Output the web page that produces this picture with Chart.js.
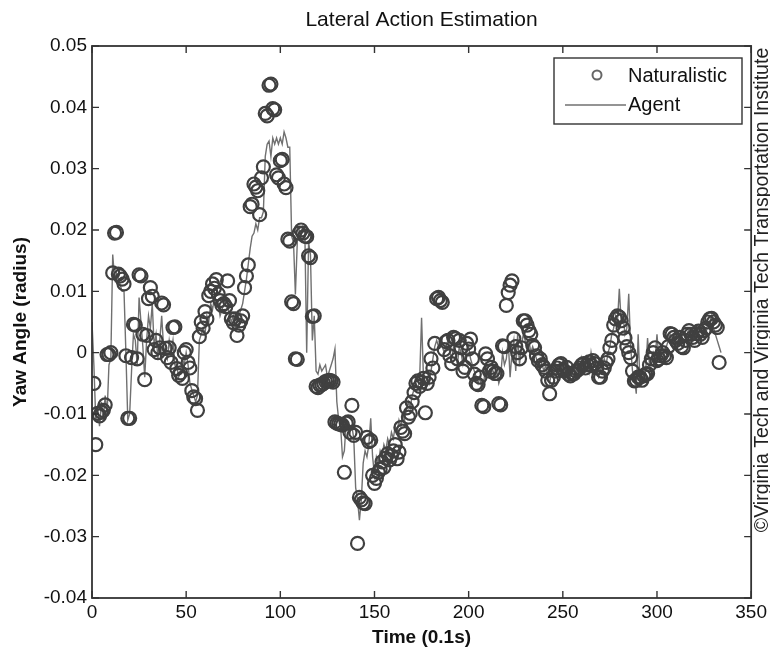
<!DOCTYPE html>
<html><head><meta charset="utf-8">
<script src="https://cdn.jsdelivr.net/npm/chart.js@4.4.1/dist/chart.umd.min.js"></script>
<style>html,body{margin:0;padding:0;background:#fff;overflow:hidden}</style>
</head><body>
<canvas id="c" width="770" height="654"></canvas>
<script>
const chartTitle = 'Lateral Action Estimation';
const xAxisTitle = 'Time (0.1s)';
const yAxisTitle = 'Yaw Angle (radius)';
const creditText = '\u00A9Virginia Tech and Virginia Tech Transportation Institute';
const seriesNames = ['Naturalistic', 'Agent'];
const xTicks = [0, 50, 100, 150, 200, 250, 300, 350];
const yTicks = [0.05, 0.04, 0.03, 0.02, 0.01, 0, -0.01, -0.02, -0.03, -0.04];

// Naturalistic yaw, one sample per time step, starting at t = 1
const naturalisticStart = 1;
const naturalisticYaw = [
  -0.005,-0.015,-0.0099,-0.0103,-0.0097,-0.0094,-0.0085,-0.0003,-0.0003,0.0,
  0.013,0.0195,0.0196,0.0128,0.0125,0.012,0.0112,-0.0005,-0.0107,-0.0107,
  -0.0008,0.0046,0.0045,-0.001,0.0127,0.0125,0.003,-0.0044,0.0028,0.0088,
  0.0106,0.0092,0.0005,0.002,0.0,0.0008,0.0081,0.0078,0.0007,-0.0008,
  0.0008,-0.0016,0.0041,0.0042,-0.0026,-0.0037,-0.0033,-0.0042,0.0,0.0005,
  -0.0016,-0.0025,-0.0062,-0.0072,-0.0075,-0.0094,0.0026,0.005,0.004,0.0067,
  0.0055,0.0093,0.01,0.0112,0.0105,0.0119,0.0096,0.0085,0.0077,0.008,
  0.0075,0.0117,0.0085,0.0055,0.0049,0.0055,0.0028,0.0045,0.0052,0.006,
  0.0106,0.0125,0.0143,0.0238,0.0242,0.0275,0.027,0.0264,0.0225,0.0285,
  0.0303,0.039,0.0386,0.0436,0.0438,0.0398,0.0396,0.029,0.0285,0.0313,
  0.0315,0.0275,0.0269,0.0185,0.0182,0.0083,0.008,-0.001,-0.0011,0.0195,
  0.02,0.0195,0.019,0.0189,0.0158,0.0155,0.0059,0.006,-0.0055,-0.0057,
  -0.0053,-0.0052,-0.005,-0.0047,-0.0046,-0.0045,-0.0046,-0.0048,-0.0113,-0.0115,
  -0.0116,-0.0117,-0.0118,-0.0195,-0.0115,-0.0113,-0.013,-0.0086,-0.0135,-0.013,
  -0.0311,-0.0236,-0.024,-0.0245,-0.0246,-0.0138,-0.0145,-0.0143,-0.02,-0.0213,
  -0.0205,-0.0195,-0.019,-0.0178,-0.0187,-0.0172,-0.0165,-0.0175,-0.0168,-0.016,
  -0.015,-0.0173,-0.0162,-0.0122,-0.0128,-0.0132,-0.009,-0.0105,-0.0099,-0.008,
  -0.0065,-0.005,-0.0046,-0.0055,-0.0048,-0.0042,-0.0098,-0.005,-0.004,-0.001,
  -0.0025,0.0015,0.0088,0.009,0.0085,0.0082,0.0005,0.0018,0.002,-0.0005,
  -0.0018,0.0025,0.0023,-0.001,0.002,0.0008,-0.003,-0.0024,0.0015,0.0006,
  0.0022,-0.001,-0.0035,-0.005,-0.0052,-0.004,-0.0086,-0.0088,-0.0002,-0.001,
  -0.003,-0.0024,-0.003,-0.0034,-0.0034,-0.0083,-0.0085,0.0011,0.001,0.0077,
  0.0098,0.011,0.0117,0.0023,0.001,0.0,-0.001,0.0008,0.0052,0.0052,
  0.0045,0.0036,0.003,0.0012,0.0008,-0.0005,-0.0013,-0.001,-0.002,-0.0024,
  -0.003,-0.0045,-0.0067,-0.0045,-0.004,-0.003,-0.0025,-0.002,-0.0018,-0.0028,
  -0.003,-0.0024,-0.0035,-0.0038,-0.0034,-0.0034,-0.003,-0.0028,-0.0025,-0.002,
  -0.0018,-0.0025,-0.002,-0.0015,-0.002,-0.0013,-0.0018,-0.0025,-0.004,-0.004,
  -0.003,-0.0025,-0.0016,-0.001,0.0008,0.002,0.0045,0.0055,0.006,0.0058,
  0.0052,0.004,0.0024,0.001,0.0,-0.0008,-0.003,-0.0046,-0.0045,-0.004,
  -0.004,-0.0045,-0.0038,-0.0035,-0.0034,-0.002,-0.001,0.0,0.0008,-0.0013,
  -0.001,-0.0005,0.0,-0.0005,-0.0008,0.001,0.0031,0.003,0.0025,0.002,
  0.0015,0.0025,0.001,0.0008,0.002,0.003,0.0036,0.003,0.0025,0.002,
  0.0031,0.0035,0.003,0.0025,0.0036,0.004,0.005,0.0055,0.0056,0.005,
  0.0045,0.0041,-0.0016
];

// Agent yaw, one sample per time step, starting at t = 0
const agentStart = 0;
const agentYaw = [
  0.005,-0.002,-0.011,-0.009,-0.012,-0.008,-0.011,-0.007,-0.01,-0.002,
  -0.001,0.016,0.012,0.013,0.012,0.011,0.01,0.01,0.0,-0.011,
  -0.01,-0.003,0.003,0.002,-0.002,0.009,0.005,0.001,-0.004,0.002,
  0.006,0.004,0.008,0.001,0.003,-0.001,0.002,0.006,0.001,0.0,
  -0.001,0.002,0.0,0.002,-0.002,-0.002,-0.004,-0.003,-0.001,-0.002,
  0.0,-0.002,-0.005,-0.006,-0.007,-0.008,-0.007,0.002,0.003,0.004,
  0.003,0.006,0.005,0.008,0.007,0.009,0.008,0.008,0.006,0.007,
  0.008,0.009,0.008,0.006,0.005,0.006,0.004,0.005,0.006,0.007,
  0.008,0.01,0.012,0.0145,0.017,0.019,0.0195,0.021,0.02,0.022,
  0.022,0.023,0.032,0.034,0.0345,0.032,0.035,0.034,0.035,0.034,
  0.035,0.034,0.036,0.035,0.0335,0.0335,0.019,0.018,0.0095,0.018,
  0.02,0.019,0.0205,0.02,0.0,0.018,0.016,0.002,0.006,-0.003,
  -0.0035,-0.002,-0.003,-0.0025,-0.002,-0.004,-0.003,-0.002,-0.001,0.0006,
  -0.008,-0.011,-0.012,-0.017,-0.016,-0.011,-0.012,-0.013,-0.012,-0.014,
  -0.022,-0.024,-0.0273,-0.024,-0.018,-0.016,-0.017,-0.015,-0.0107,-0.017,
  -0.02,-0.017,-0.018,-0.016,-0.017,-0.015,-0.016,-0.014,-0.015,-0.013,
  -0.014,-0.012,-0.013,-0.011,-0.012,-0.01,-0.011,-0.009,-0.008,-0.009,
  -0.007,-0.006,-0.005,-0.006,-0.004,0.0057,-0.004,-0.005,-0.004,-0.005,
  -0.003,-0.001,0.001,0.002,0.001,0.002,0.001,0.0,0.001,0.002,
  0.0,-0.001,0.001,0.0,-0.002,0.001,0.0,-0.002,-0.001,0.0,
  0.001,-0.001,-0.002,-0.003,-0.004,-0.005,-0.004,-0.006,-0.005,-0.002,
  -0.003,-0.004,-0.003,-0.003,-0.004,-0.003,-0.005,-0.004,0.0,-0.002,
  -0.001,0.002,-0.004,0.0,0.002,-0.003,0.003,-0.002,0.001,0.003,
  0.002,0.001,0.002,0.0,0.001,0.0,-0.001,-0.002,-0.001,-0.002,
  -0.003,-0.002,-0.004,-0.005,-0.003,-0.004,-0.002,-0.003,-0.002,-0.003,
  -0.002,-0.004,-0.002,-0.003,-0.004,-0.003,-0.002,-0.004,-0.002,-0.003,
  -0.001,-0.003,-0.002,-0.001,-0.003,0.0,-0.002,-0.001,-0.003,-0.004,
  -0.003,-0.002,-0.001,-0.002,0.0,0.001,0.003,0.004,0.006,0.005,
  0.0104,0.005,0.006,0.003,0.004,0.0096,0.001,-0.003,-0.004,-0.0067,
  0.003,-0.005,-0.003,-0.004,-0.003,0.0024,-0.002,-0.001,0.0,-0.001,
  0.003,-0.001,0.0,-0.001,0.0,0.001,0.002,0.003,0.002,0.003,
  0.002,0.001,0.002,0.003,0.001,0.002,0.003,0.004,0.003,0.002,
  0.003,0.004,0.003,0.002,0.003,0.004,0.003,0.005,0.005,0.006,
  0.004,0.003,0.002,0.001,0.0
];

const FONT = "'Liberation Sans', Arial, sans-serif";
const MARKER_COLOR = '#404040';
const LINE_COLOR = '#707070';
const FRAME_COLOR = '#333333';

const naturalisticPoints = naturalisticYaw.map((v, i) => ({x: naturalisticStart + i, y: v}));
const agentPoints = agentYaw.map((v, i) => ({x: agentStart + i, y: v}));

const fmtY = v => (Math.abs(v) < 1e-9 ? '0' : v.toFixed(2));

const framePlugin = {
  id: 'frame',
  afterDatasetsDraw(chart) {
    const {ctx, chartArea: a, scales: {x, y}} = chart;
    ctx.save();
    ctx.strokeStyle = FRAME_COLOR;
    ctx.lineWidth = 1.8;
    ctx.strokeRect(a.left, a.top, a.right - a.left, a.bottom - a.top);
    ctx.lineWidth = 1.4;
    const L = 7;
    ctx.beginPath();
    x.ticks.forEach(t => {
      const px = x.getPixelForValue(t.value);
      ctx.moveTo(px, a.bottom); ctx.lineTo(px, a.bottom - L);
      ctx.moveTo(px, a.top); ctx.lineTo(px, a.top + L);
    });
    y.ticks.forEach(t => {
      const py = y.getPixelForValue(t.value);
      ctx.moveTo(a.left, py); ctx.lineTo(a.left + L, py);
      ctx.moveTo(a.right, py); ctx.lineTo(a.right - L, py);
    });
    ctx.stroke();
    ctx.restore();
  },
  afterDraw(chart) {
    const {ctx} = chart;
    ctx.save();
    const bx = 554, by = 58, bw = 188, bh = 66;
    ctx.fillStyle = '#fff';
    ctx.fillRect(bx, by, bw, bh);
    ctx.strokeStyle = FRAME_COLOR;
    ctx.lineWidth = 1.4;
    ctx.strokeRect(bx, by, bw, bh);
    ctx.font = '20px ' + FONT;
    ctx.fillStyle = '#111';
    ctx.textBaseline = 'middle';
    ctx.textAlign = 'left';
    ctx.beginPath();
    ctx.strokeStyle = '#666';
    ctx.lineWidth = 2;
    ctx.arc(597, 75, 4.5, 0, Math.PI * 2);
    ctx.stroke();
    ctx.fillText(chart.data.datasets[0].label, 628, 76);
    ctx.beginPath();
    ctx.strokeStyle = LINE_COLOR;
    ctx.lineWidth = 1.4;
    ctx.moveTo(565, 105); ctx.lineTo(626, 105);
    ctx.stroke();
    ctx.fillText(chart.data.datasets[1].label, 628, 105);
    // credit text, rotated along the right edge
    ctx.translate(763, 290);
    ctx.rotate(-Math.PI / 2);
    ctx.textAlign = 'center';
    ctx.font = '19.5px ' + FONT;
    ctx.fillStyle = '#222';
    ctx.fillText(creditText, 0, 0);
    ctx.restore();
  }
};

new Chart(document.getElementById('c'), {
  type: 'scatter',
  data: {
    datasets: [
      {
        label: seriesNames[0],
        data: naturalisticPoints,
        showLine: false,
        pointStyle: 'circle',
        pointRadius: 6.5,
        pointBorderWidth: 2.2,
        borderColor: MARKER_COLOR,
        backgroundColor: 'rgba(0,0,0,0)',
        order: 1
      },
      {
        label: seriesNames[1],
        data: agentPoints,
        showLine: true,
        pointRadius: 0,
        borderColor: LINE_COLOR,
        borderWidth: 1.4,
        backgroundColor: 'rgba(0,0,0,0)',
        order: 2
      }
    ]
  },
  options: {
    responsive: false,
    animation: false,
    devicePixelRatio: 1,
    layout: {padding: {left: 0, right: 18, top: 0, bottom: 0}},
    plugins: {
      legend: {display: false},
      tooltip: {enabled: false},
      title: {
        display: true,
        text: chartTitle,
        fullSize: false,
        color: '#111',
        font: {family: FONT, size: 21, weight: 'normal', lineHeight: 1.2},
        padding: {top: 7.4, bottom: 13.4}
      }
    },
    scales: {
      x: {
        type: 'linear',
        position: 'bottom',
        min: xTicks[0],
        max: xTicks[xTicks.length - 1],
        afterBuildTicks: s => { s.ticks = xTicks.map(v => ({value: v})); },
        afterFit: s => { s.height = 56; },
        grid: {display: false, drawTicks: false},
        border: {display: false},
        ticks: {color: '#111', font: {family: FONT, size: 19}, padding: 3, maxRotation: 0, autoSkip: false},
        title: {display: true, text: xAxisTitle, color: '#111',
          font: {family: FONT, size: 19, weight: 'bold', lineHeight: 1.2},
          padding: {top: 0, bottom: 4.6}}
      },
      y: {
        type: 'linear',
        position: 'left',
        min: yTicks[yTicks.length - 1],
        max: yTicks[0],
        afterBuildTicks: s => { s.ticks = yTicks.slice().reverse().map(v => ({value: v})); },
        afterFit: s => { s.width = 92; },
        grid: {display: false, drawTicks: false},
        border: {display: false},
        ticks: {color: '#111', font: {family: FONT, size: 19}, padding: 5, autoSkip: false,
          callback: v => fmtY(v)},
        title: {display: true, text: yAxisTitle, color: '#111',
          font: {family: FONT, size: 19, weight: 'bold', lineHeight: 1.2},
          padding: {top: 9, bottom: 0}}
      }
    }
  },
  plugins: [framePlugin]
});
</script>
</body></html>
